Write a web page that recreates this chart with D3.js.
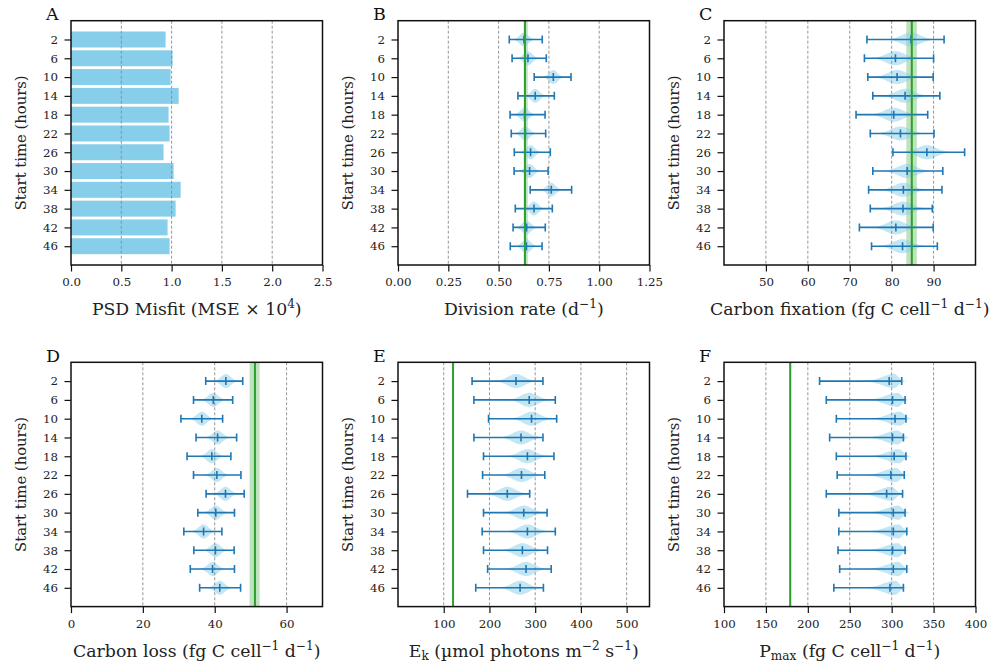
<!DOCTYPE html>
<html>
<head>
<meta charset="utf-8">
<script src="https://cdn.jsdelivr.net/npm/d3@7"></script>
<style>
  body { margin: 0; background: #fff; }
  svg { display: block; font-family: "DejaVu Serif", serif; }
</style>
</head>
<body>
<svg id="chart" width="1008" height="666"></svg>
<script>
// start times (hours), one row per fit window
var startTimes = [2, 6, 10, 14, 18, 22, 26, 30, 34, 38, 42, 46];

// A - PSD misfit (MSE x 10^4)
var psdMisfit = [0.94, 1.01, 0.99, 1.07, 0.97, 0.98, 0.92, 1.02, 1.09, 1.04, 0.96, 0.98];

// B - division rate (d^-1): lower / median / upper of posterior
var divLo  = [0.553, 0.567, 0.677, 0.596, 0.557, 0.563, 0.578, 0.577, 0.657, 0.583, 0.572, 0.558];
var divMed = [0.626, 0.646, 0.772, 0.682, 0.629, 0.633, 0.659, 0.654, 0.762, 0.676, 0.639, 0.638];
var divHi  = [0.717, 0.737, 0.860, 0.777, 0.731, 0.734, 0.757, 0.746, 0.863, 0.767, 0.732, 0.716];
var divRef = [0.625, 0.631, 0.645];

// C - carbon fixation (fg C cell^-1 d^-1)
var fixLo  = [74.1, 73.5, 74.3, 75.5, 71.5, 74.9, 80.3, 75.5, 74.5, 74.9, 72.3, 75.2];
var fixMed = [84.6, 80.9, 81.3, 83.2, 80.5, 82.1, 88.4, 83.7, 82.8, 82.7, 81.0, 82.6];
var fixHi  = [92.5, 90.0, 89.9, 91.5, 88.6, 90.1, 97.4, 92.2, 92.0, 89.7, 89.9, 90.9];
var fixRef = [83.5, 84.8, 86.0];

// D - carbon loss (fg C cell^-1 d^-1)
var lossLo  = [37.5, 34.1, 30.6, 34.8, 32.3, 34.1, 37.6, 35.3, 31.4, 34.2, 33.2, 35.8];
var lossMed = [43.1, 39.6, 36.4, 40.8, 39.2, 40.6, 43.0, 40.3, 36.9, 40.2, 39.4, 41.4];
var lossHi  = [47.8, 45.0, 42.2, 46.1, 44.5, 47.3, 48.2, 45.5, 42.0, 45.4, 45.5, 47.2];
var lossRef = [49.7, 51.2, 52.5];

// E - Ek (umol photons m^-2 s^-1)
var ekLo  = [162, 166, 198, 166, 187, 185, 152, 187, 184, 187, 196, 170];
var ekMed = [258, 287, 292, 269, 283, 270, 239, 275, 283, 272, 280, 267];
var ekHi  = [317, 344, 347, 317, 341, 321, 288, 326, 344, 327, 335, 318];
var ekRef = [119, 120.4, 122];

// F - Pmax (fg C cell^-1 d^-1)
var pmaxLo  = [214, 222, 234, 226, 234, 235, 222, 237, 237, 236, 238, 231];
var pmaxMed = [297, 301, 304, 301, 303, 299, 294, 302, 302, 301, 302, 298];
var pmaxHi  = [312, 316, 317, 314, 317, 315, 313, 316, 318, 316, 318, 314];
var pmaxRef = [178, 179, 180];

// violin shape per panel: left spread, right spread, shift of peak from median
var violinShape = {
  B: [0.021, 0.021, 0],
  C: [2.2, 2.2, 0],
  D: [1.35, 1.35, 0],
  E: [18, 18, 0],
  F: [14, 5, 6]
};

var panels = [
  { key: 'A', col: 0, row: 0, domain: [0, 2.5], ticks: [0, 0.5, 1.0, 1.5, 2.0, 2.5], fmt: '.1f',
    label: [{t: 'PSD Misfit (MSE \u00d7 10'}, {t: '4', sup: true}, {t: ')'}], bars: psdMisfit },
  { key: 'B', col: 1, row: 0, domain: [0, 1.25], ticks: [0, 0.25, 0.5, 0.75, 1.0, 1.25], fmt: '.2f',
    label: [{t: 'Division rate (d'}, {t: '\u22121', sup: true}, {t: ')'}],
    lo: divLo, med: divMed, hi: divHi, ref: divRef },
  { key: 'C', col: 2, row: 0, domain: [40, 100], ticks: [50, 60, 70, 80, 90], fmt: 'd',
    label: [{t: 'Carbon fixation (fg C cell'}, {t: '\u22121', sup: true}, {t: ' d'}, {t: '\u22121', sup: true}, {t: ')'}],
    lo: fixLo, med: fixMed, hi: fixHi, ref: fixRef },
  { key: 'D', col: 0, row: 1, domain: [0, 70], ticks: [0, 20, 40, 60], fmt: 'd',
    label: [{t: 'Carbon loss (fg C cell'}, {t: '\u22121', sup: true}, {t: ' d'}, {t: '\u22121', sup: true}, {t: ')'}],
    lo: lossLo, med: lossMed, hi: lossHi, ref: lossRef },
  { key: 'E', col: 1, row: 1, domain: [0, 550], ticks: [100, 200, 300, 400, 500], fmt: 'd',
    label: [{t: 'E'}, {t: 'k', sub: true}, {t: ' (\u00b5mol photons m'}, {t: '\u22122', sup: true}, {t: ' s'}, {t: '\u22121', sup: true}, {t: ')'}],
    lo: ekLo, med: ekMed, hi: ekHi, ref: ekRef },
  { key: 'F', col: 2, row: 1, domain: [100, 400], ticks: [100, 150, 200, 250, 300, 350, 400], fmt: 'd',
    label: [{t: 'P'}, {t: 'max', sub: true}, {t: ' (fg C cell'}, {t: '\u22121', sup: true}, {t: ' d'}, {t: '\u22121', sup: true}, {t: ')'}],
    lo: pmaxLo, med: pmaxMed, hi: pmaxHi, ref: pmaxRef }
];

var colLeft = [71, 398, 724];
var rowTop = [20.7, 362.3];
var pw = 251.5, ph = 244.3;

var blue = '#1f77b4', sky = '#87ceeb', green = '#2ca02c';

var svg = d3.select('#chart');

function richText(sel, parts) {
  var cur = 0;
  parts.forEach(function (p) {
    var s = p.sup ? -7 : (p.sub ? 3.5 : 0);
    var ts = sel.append('tspan').text(p.t);
    if (s != cur) { ts.attr('dy', s - cur); }
    if (p.sup || p.sub) { ts.attr('font-size', '0.7em'); }
    cur = s;
  });
}

panels.forEach(function (p) {
  var left = colLeft[p.col], top = rowTop[p.row];
  var x = d3.scaleLinear().domain(p.domain).range([left, left + pw]);
  var y = d3.scaleLinear().domain([-1, 12]).range([top, top + ph]);
  var step = y(1) - y(0);

  var g = svg.append('g');
  var clipId = 'clip' + p.key;
  svg.append('clipPath').attr('id', clipId).append('rect')
    .attr('x', left).attr('y', top).attr('width', pw).attr('height', ph);
  var plot = g.append('g').attr('clip-path', 'url(#' + clipId + ')');

  // reference band
  if (p.ref) {
    plot.append('rect')
      .attr('x', x(p.ref[0])).attr('y', top)
      .attr('width', x(p.ref[2]) - x(p.ref[0])).attr('height', ph)
      .attr('fill', green).attr('fill-opacity', 0.3);
  }

  if (p.bars) {
    plot.selectAll('rect.bar').data(p.bars).enter().append('rect')
      .attr('class', 'bar')
      .attr('x', x(0))
      .attr('y', function (d, i) { return y(i) - step * 0.425; })
      .attr('width', function (d) { return x(d) - x(0); })
      .attr('height', step * 0.85)
      .attr('fill', sky);
  }

  if (p.med) {
    var shp = violinShape[p.key];
    var area = d3.area()
      .x(function (d) { return x(d[0]); })
      .y0(function (d) { return d[1] - d[2]; })
      .y1(function (d) { return d[1] + d[2]; })
      .curve(d3.curveBasis);
    p.med.forEach(function (m, i) {
      var pk = m + shp[2], cy = y(i), pts = [];
      for (var k = -3.2; k <= 3.2001; k += 0.1) {
        var v = pk + k * (k < 0 ? shp[0] : shp[1]);
        pts.push([v, cy, step * 0.375 * Math.exp(-0.5 * k * k)]);
      }
      plot.append('path').attr('d', area(pts))
        .attr('fill', sky).attr('fill-opacity', 0.5);
    });
  }

  // dashed grid, interior ticks only
  plot.selectAll('line.grid')
    .data(p.ticks.filter(function (t) { return t > p.domain[0] && t < p.domain[1]; }))
    .enter().append('line')
    .attr('x1', function (d) { return x(d); }).attr('x2', function (d) { return x(d); })
    .attr('y1', top).attr('y2', top + ph)
    .attr('stroke', '#8a8a8a').attr('stroke-width', 0.9).attr('stroke-dasharray', '3,2');

  if (p.med) {
    var cap = 4;
    p.med.forEach(function (m, i) {
      var cy = y(i);
      var eb = plot.append('g').attr('stroke', blue).attr('stroke-width', 1.6);
      eb.append('line').attr('x1', x(p.lo[i])).attr('x2', x(p.hi[i])).attr('y1', cy).attr('y2', cy);
      [p.lo[i], m, p.hi[i]].forEach(function (v) {
        eb.append('line').attr('x1', x(v)).attr('x2', x(v)).attr('y1', cy - cap).attr('y2', cy + cap);
      });
    });
    plot.append('line')
      .attr('x1', x(p.ref[1])).attr('x2', x(p.ref[1]))
      .attr('y1', top).attr('y2', top + ph)
      .attr('stroke', green).attr('stroke-width', 2);
  }

  // axes
  var xAxis = d3.axisBottom(x).tickValues(p.ticks).tickFormat(d3.format(p.fmt))
    .tickSize(6.5).tickPadding(6.5);
  var gx = g.append('g').attr('transform', 'translate(0,' + (top + ph) + ')').call(xAxis);
  var yAxis = d3.axisLeft(y).tickValues(d3.range(12))
    .tickFormat(function (i) { return startTimes[i]; }).tickSize(6.5).tickPadding(6.5);
  var gy = g.append('g').attr('transform', 'translate(' + left + ',0)').call(yAxis);
  [gx, gy].forEach(function (a) {
    a.select('.domain').remove();
    a.selectAll('.tick line').attr('stroke', '#111').attr('stroke-width', 1.2);
    a.selectAll('.tick text').attr('font-family', '"DejaVu Serif", serif')
      .attr('font-size', 11.8).attr('fill', '#222');
  });

  g.append('rect').attr('x', left).attr('y', top).attr('width', pw).attr('height', ph)
    .attr('fill', 'none').attr('stroke', '#111').attr('stroke-width', 1.5);

  var xl = g.append('text')
    .attr('x', left + pw / 2).attr('y', top + ph + 50)
    .attr('text-anchor', 'middle').attr('font-size', 17.3).attr('fill', '#222');
  richText(xl, p.label);

  g.append('text')
    .attr('transform', 'translate(' + (left - 45) + ',' + (top + ph / 2) + ') rotate(-90)')
    .attr('text-anchor', 'middle').attr('font-size', 14.8).attr('fill', '#222')
    .text('Start time (hours)');

  g.append('text')
    .attr('x', left - 25).attr('y', top - 0.5)
    .attr('font-size', 17.5).attr('fill', '#111')
    .text(p.key);
});
</script>
</body>
</html>
